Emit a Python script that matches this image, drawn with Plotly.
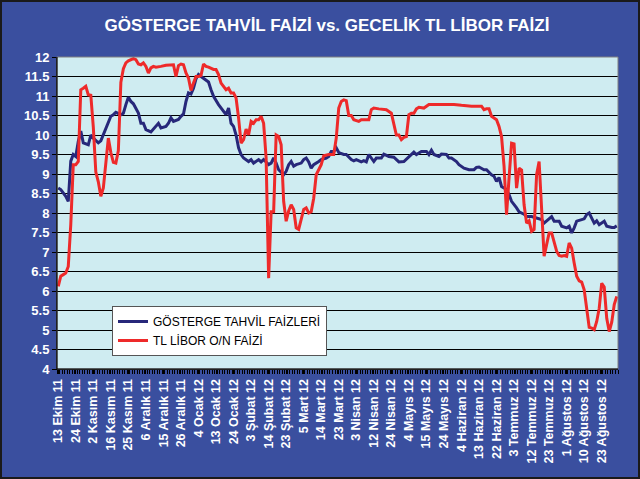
import plotly.graph_objects as go

# ---- data ----
tick_labels = ["13 Ekim 11", "24 Ekim 11", "2 Kasım 11", "16 Kasım 11", "25 Kasım 11",
               "6 Aralık 11", "15 Aralık 11", "26 Aralık 11", "4 Ocak 12", "13 Ocak 12",
               "24 Ocak 12", "3 Şubat 12", "14 Şubat 12", "23 Şubat 12", "5 Mart 12",
               "14 Mart 12", "23 Mart 12", "3 Nisan 12", "12 Nisan 12", "24 Nisan 12",
               "4 Mayıs 12", "15 Mayıs 12", "24 Mayıs 12", "4 Haziran 12", "13 Haziran 12",
               "22 Haziran 12", "3 Temmuz 12", "12 Temmuz 12", "23 Temmuz 12",
               "1 Ağustos 12", "10 Ağustos 12", "23 Ağustos 12"]
days_per_label = 7
n_days = 224

# trading-day index and value, GÖSTERGE TAHVİL FAİZLERİ
gosterge_gun = [0, 1, 3, 4, 5, 6, 7, 8, 9, 10, 12, 13, 14, 16, 17, 18, 20, 21, 22, 23,
                25, 26, 27, 28, 29, 30, 32, 33, 34, 35, 37, 38, 39, 40, 41, 43, 44, 45, 46, 48,
                49, 50, 51, 52, 53, 54, 55, 56, 57, 58, 60, 61, 62, 64, 65, 66, 67, 68, 69, 70,
                71, 72, 73, 74, 76, 77, 78, 80, 81, 82, 84, 85, 86, 87, 88, 90, 91, 92, 93, 94,
                95, 97, 98, 99, 100, 101, 102, 104, 105, 107, 108, 109, 110, 111, 112, 114, 115, 117, 118, 119,
                121, 122, 123, 124, 126, 127, 129, 130, 132, 134, 136, 138, 140, 142, 143, 145, 147, 148, 149, 150,
                152, 153, 155, 156, 157, 159, 160, 162, 164, 166, 167, 168, 170, 171, 173, 174, 175, 176, 177, 179,
                180, 181, 183, 184, 186, 187, 189, 190, 193, 194, 195, 197, 198, 200, 201, 203, 204, 205, 206, 207,
                209, 210, 211, 212, 213, 214, 215, 216, 218, 219, 221, 222, 223]
gosterge_faiz = [8.64, 8.60, 8.43, 8.30, 9.33, 9.50, 9.45, 9.84, 10.10, 9.80, 9.75, 10.00, 9.92, 9.80, 9.85, 10.00, 10.30, 10.48, 10.52, 10.58,
                 10.52, 10.56, 10.78, 10.97, 10.86, 10.80, 10.56, 10.30, 10.30, 10.14, 10.08, 10.16, 10.25, 10.30, 10.18, 10.22, 10.30, 10.44, 10.35, 10.40,
                 10.48, 10.54, 10.86, 11.08, 11.05, 11.20, 11.44, 11.55, 11.50, 11.46, 11.36, 11.16, 10.99, 10.78, 10.69, 10.62, 10.52, 10.69, 10.30, 10.22,
                 10.00, 9.67, 9.50, 9.41, 9.32, 9.37, 9.28, 9.37, 9.31, 9.37, 9.24, 9.28, 9.41, 9.28, 9.11, 8.98, 9.07, 9.24, 9.32, 9.20,
                 9.24, 9.28, 9.37, 9.41, 9.31, 9.15, 9.24, 9.32, 9.37, 9.41, 9.45, 9.58, 9.58, 9.67, 9.55, 9.50, 9.50, 9.37, 9.34, 9.37,
                 9.31, 9.34, 9.31, 9.50, 9.32, 9.41, 9.41, 9.51, 9.45, 9.43, 9.31, 9.32, 9.45, 9.56, 9.50, 9.58, 9.58, 9.50, 9.61, 9.50,
                 9.45, 9.51, 9.50, 9.41, 9.41, 9.32, 9.24, 9.15, 9.11, 9.11, 9.17, 9.18, 9.11, 9.11, 8.98, 8.94, 8.81, 8.91, 8.68, 8.60,
                 8.47, 8.30, 8.13, 8.03, 7.97, 7.91, 7.91, 7.89, 7.83, 7.74, 7.79, 7.91, 7.79, 7.79, 7.66, 7.62, 7.66, 7.49, 7.62, 7.79,
                 7.83, 7.85, 7.96, 8.00, 7.87, 7.74, 7.80, 7.70, 7.79, 7.66, 7.63, 7.63, 7.67]

# trading-day index and value, TL LİBOR O/N FAİZİ
libor_gun = [0, 1, 2, 3, 4, 5, 6, 7, 8, 9, 10, 11, 12, 13, 14, 15, 16, 17, 18, 19,
             20, 21, 22, 23, 24, 25, 26, 27, 28, 30, 31, 32, 33, 34, 35, 36, 37, 38, 39, 41,
             43, 46, 47, 48, 49, 50, 51, 52, 53, 54, 55, 56, 57, 58, 59, 60, 62, 63, 64, 65,
             66, 67, 68, 69, 70, 71, 72, 73, 74, 75, 76, 77, 78, 79, 80, 81, 82, 83, 84, 85,
             86, 87, 88, 89, 90, 91, 92, 93, 94, 95, 96, 97, 98, 99, 100, 101, 102, 103, 104, 105,
             106, 108, 110, 111, 112, 113, 114, 115, 116, 117, 118, 120, 121, 124, 125, 126, 128, 130, 131, 133,
             134, 135, 136, 137, 138, 139, 140, 141, 142, 143, 144, 146, 148, 150, 154, 158, 161, 165, 169, 170,
             171, 172, 173, 175, 176, 177, 178, 179, 180, 181, 182, 183, 184, 185, 186, 187, 188, 189, 190, 191,
             192, 193, 194, 195, 196, 197, 198, 199, 200, 201, 202, 203, 204, 205, 206, 207, 208, 209, 210, 211,
             212, 213, 214, 215, 216, 217, 218, 219, 220, 221, 222, 223]
libor_faiz = [6.12, 6.38, 6.42, 6.46, 6.63, 7.70, 9.24, 9.24, 9.32, 11.16, 11.20, 11.25, 11.03, 11.02, 10.20, 9.05, 8.80, 8.43, 8.64, 9.30,
              9.92, 9.55, 9.30, 9.28, 9.60, 11.35, 11.70, 11.85, 11.90, 11.96, 11.93, 11.82, 11.80, 11.85, 11.76, 11.59, 11.72, 11.76, 11.74, 11.76,
              11.79, 11.80, 11.50, 11.78, 11.82, 11.80, 11.59, 11.46, 11.14, 11.33, 11.50, 11.50, 11.53, 11.82, 11.76, 11.74, 11.68, 11.68, 11.55, 11.33,
              11.25, 11.16, 11.20, 11.08, 11.08, 10.95, 10.44, 9.79, 9.88, 10.15, 10.00, 10.35, 10.30, 10.39, 10.39, 10.48, 10.30, 9.41, 6.33, 8.03,
              8.03, 10.00, 9.96, 9.75, 8.30, 7.79, 8.05, 8.21, 8.09, 7.62, 7.58, 7.87, 8.09, 8.13, 8.00, 8.03, 8.38, 8.98, 9.11, 9.24,
              9.47, 9.50, 9.50, 9.92, 10.69, 10.86, 10.90, 10.88, 10.50, 10.50, 10.39, 10.35, 10.39, 10.39, 10.65, 10.69, 10.67, 10.65, 10.65, 10.56,
              10.26, 10.00, 10.00, 9.88, 9.94, 9.96, 10.52, 10.56, 10.56, 10.67, 10.71, 10.69, 10.78, 10.78, 10.78, 10.78, 10.76, 10.74, 10.74, 10.65,
              10.67, 10.67, 10.48, 10.39, 10.22, 9.96, 9.20, 7.96, 8.90, 9.79, 9.77, 8.64, 9.15, 9.10, 8.21, 7.74, 7.80, 7.53, 7.58, 8.98,
              9.32, 8.20, 6.89, 7.19, 7.49, 7.49, 7.23, 7.02, 6.91, 6.89, 6.91, 6.89, 7.23, 7.10, 6.72, 6.38, 6.26, 6.23, 6.03, 5.50,
              5.07, 5.05, 5.01, 5.22, 5.56, 6.20, 6.10, 5.30, 4.96, 5.20, 5.65, 5.86]

y_min, y_max, y_step = 4, 12, 0.5

# ---- styling ----
BG = "#3A4F9F"
PLOT_BG = "#CFECF1"
NAVY = "#27287A"
RED = "#EE2A2A"
FONT = "Liberation Sans, Arial, sans-serif"

W, H = 640, 479
ML, MR, MT, MB = 57, 22, 57, 110
pw, ph = W - ML - MR, H - MT - MB

fig = go.Figure()
fig.add_trace(go.Scatter(x=gosterge_gun, y=gosterge_faiz, mode="lines",
                         name="GÖSTERGE TAHVİL FAİZLERİ",
                         line=dict(color=NAVY, width=3)))
fig.add_trace(go.Scatter(x=libor_gun, y=libor_faiz, mode="lines",
                         name="TL LİBOR O/N FAİZİ",
                         line=dict(color=RED, width=3)))

tickvals = [k * days_per_label for k in range(len(tick_labels))]

fig.update_xaxes(range=[-0.5, n_days - 0.5], tickmode="array", tickvals=tickvals,
                 ticktext=tick_labels, tickangle=-90, showgrid=False, zeroline=False,
                 showline=True, linecolor="black", linewidth=1,
                 ticks="outside", ticklen=4, tickcolor="black", automargin=False,
                 tickfont=dict(family=FONT, size=12.5, color="white", weight="bold"),
                 minor=dict(tickmode="linear", tick0=-0.5, dtick=1, ticks="outside",
                            ticklen=4, tickcolor="black", showgrid=False))
fig.update_yaxes(range=[y_min, y_max], dtick=y_step, tick0=y_min, showgrid=True,
                 gridcolor="black", gridwidth=1, zeroline=False,
                 showline=True, linecolor="black", linewidth=1,
                 ticks="outside", ticklen=4, tickcolor="black", automargin=False,
                 tickfont=dict(family=FONT, size=13, color="white", weight="bold"))

# plot-area border (top / right) and outer frame
fig.add_shape(type="rect", xref="paper", yref="paper", x0=0, x1=1, y0=0, y1=1,
              line=dict(color="#808080", width=1), layer="above")
fig.add_shape(type="line", xref="paper", yref="paper", x0=0, x1=0, y0=0, y1=1,
              line=dict(color="black", width=1), layer="above")
fig.add_shape(type="line", xref="paper", yref="paper", x0=0, x1=1, y0=0, y1=0,
              line=dict(color="black", width=1), layer="above")
fig.add_shape(type="rect", xref="paper", yref="paper",
              x0=(1 - ML) / pw, x1=(W - ML - 1) / pw,
              y0=1 - (H - 1 - MT) / ph, y1=1 + (MT - 1) / ph,
              line=dict(color="#1a1a1a", width=2), layer="above")

fig.update_layout(
    width=W, height=H,
    margin=dict(l=ML, r=MR, t=MT, b=MB),
    paper_bgcolor=BG, plot_bgcolor=PLOT_BG,
    title=dict(text="GÖSTERGE TAHVİL FAİZİ vs. GECELİK TL LİBOR FAİZİ",
               x=327 / W, xanchor="center", xref="container",
               y=1 - 25 / H, yanchor="middle", yref="container",
               font=dict(family=FONT, size=17, color="white", weight="bold")),
    legend=dict(x=(112 - ML) / pw, y=1 - (306 - MT) / ph, xanchor="left", yanchor="top",
                bgcolor="white", bordercolor="#555555", borderwidth=1,
                font=dict(family=FONT, size=12, color="black"),
                tracegroupgap=0, itemwidth=30),
    showlegend=True,
)

fig.write_html("out.html", config={"displayModeBar": False},
               post_script="document.body.style.margin='0';document.body.style.overflow='hidden';")
